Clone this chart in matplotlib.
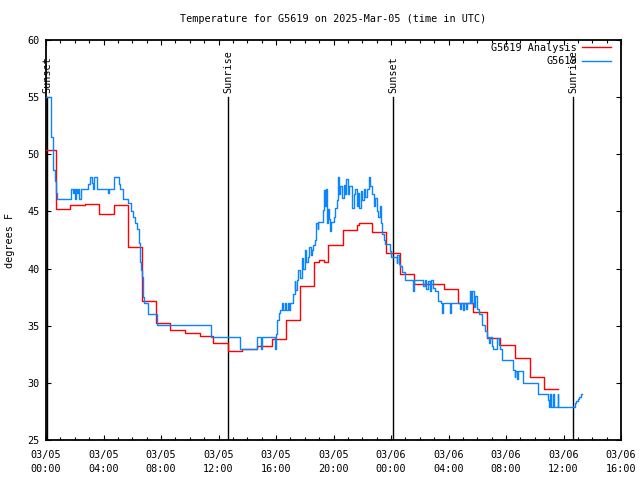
import matplotlib
matplotlib.use("Agg")
import matplotlib.pyplot as plt
from matplotlib.ticker import MultipleLocator

title = "Temperature for G5619 on 2025-Mar-05 (time in UTC)"
ylabel = "degrees F"
xtick_labels = ["03/05\n00:00", "03/05\n04:00", "03/05\n08:00", "03/05\n12:00",
                "03/05\n16:00", "03/05\n20:00", "03/06\n00:00", "03/06\n04:00",
                "03/06\n08:00", "03/06\n12:00", "03/06\n16:00"]
xtick_hours = [0, 4, 8, 12, 16, 20, 24, 28, 32, 36, 40]

# analysis (red), hours since 03/05 00:00 UTC, step-post
red_hours = [0.0, 0.67, 1.67, 2.7, 3.7, 4.7, 5.7, 6.7, 7.65, 8.6, 9.67, 10.7,
             11.6, 12.65, 13.66, 14.7, 15.7, 16.7, 17.7, 18.67, 19.0, 19.36,
             19.64, 20.64, 21.6, 21.75, 22.66, 23.65, 24.66, 25.6, 27.66, 28.68,
             29.68, 30.66, 31.6, 32.6, 33.67, 34.64, 35.64]
red_temps = [50.4, 45.2, 45.55, 45.65, 44.8, 45.55, 41.85, 37.15, 35.25, 34.6,
             34.4, 34.1, 33.45, 32.8, 32.95, 33.2, 33.8, 35.5, 38.5, 40.6,
             40.75, 40.6, 42.05, 43.35, 43.8, 44.0, 43.2, 41.35, 39.5, 38.65,
             38.2, 37.0, 36.2, 33.9, 33.3, 32.15, 30.55, 29.45, 29.45]

# observations (blue), step-post
obs_hours = [0.0, 0.33, 0.5, 0.6, 0.68, 0.74, 1.72, 1.9, 1.95, 2.02, 2.1, 2.18,
             2.25, 2.32, 2.4, 2.48, 2.94, 3.06, 3.2, 3.29, 3.34, 3.57, 4.29,
             4.38, 4.73, 5.08, 5.15, 5.38, 5.73, 5.91, 6.08, 6.19, 6.36, 6.47,
             6.54, 6.6, 6.66, 6.72, 6.77, 6.84, 7.12, 7.7, 11.46, 13.5, 14.7,
             14.95, 15.04, 15.18, 15.93, 16.0, 16.05, 16.1, 16.2, 16.3, 16.4,
             16.5, 16.6, 16.7, 16.8, 16.9, 17.0, 17.2, 17.3, 17.35, 17.43,
             17.55, 17.65, 17.8, 17.9, 18.0, 18.1, 18.2, 18.3, 18.4, 18.5,
             18.6, 18.7, 18.8, 18.9, 18.95, 19.3, 19.35, 19.4, 19.45, 19.54,
             19.6, 19.7, 19.77, 19.85, 20.0, 20.1, 20.24, 20.3, 20.35, 20.47,
             20.6, 20.7, 20.8, 20.9, 21.0, 21.1, 21.3, 21.4, 21.5, 21.6, 21.7,
             21.8, 21.9, 22.0, 22.1, 22.2, 22.3, 22.47, 22.55, 22.65, 22.8,
             22.9, 23.0, 23.1, 23.2, 23.3, 23.4, 23.5, 23.6, 23.9, 24.0, 24.4,
             24.45, 24.55, 24.6, 24.75, 24.97, 25.55, 25.6, 26.25, 26.35, 26.45,
             26.55, 26.7, 26.8, 26.9, 27.06, 27.3, 27.45, 27.53, 27.6, 28.1,
             28.2, 28.8, 28.9, 29.0, 29.1, 29.2, 29.3, 29.5, 29.55, 29.65,
             29.75, 29.85, 29.96, 30.1, 30.3, 30.54, 30.7, 30.8, 30.9, 31.0,
             31.1, 31.35, 31.5, 31.6, 31.7, 32.5, 32.6, 32.65, 32.75, 32.86,
             33.16, 34.25, 34.95, 35.0, 35.05, 35.1, 35.3, 35.35, 35.6, 35.65,
             36.68, 36.8, 36.9, 37.0, 37.1, 37.2, 37.27]
obs_temps = [55.0, 51.5, 48.6, 47.7, 46.6, 46.05, 47.0, 46.6, 47.0, 46.05, 47.0,
             46.6, 47.0, 46.05, 47.0, 47.0, 47.4, 48.0, 47.5, 47.0, 48.0, 47.0,
             46.6, 47.0, 48.0, 47.4, 47.0, 46.05, 45.7, 45.0, 44.5, 44.0, 43.5,
             42.2, 40.6, 39.9, 39.3, 38.4, 37.5, 37.0, 36.0, 35.05, 34.0, 33.0,
             34.0, 33.0, 34.0, 34.0, 33.0, 34.3, 35.05, 35.5, 36.1, 36.4, 37.0,
             36.4, 37.0, 36.4, 37.0, 36.4, 36.95, 37.8, 38.9, 38.1, 39.0, 39.9,
             39.2, 40.9, 40.0, 41.6, 40.6, 41.0, 41.9, 41.2, 41.6, 42.1, 42.5,
             44.0, 43.5, 44.1, 45.1, 46.9, 45.5, 47.0, 44.0, 45.2, 44.3, 43.3,
             44.1, 44.5, 45.3, 46.0, 48.0, 46.5, 47.2, 46.2, 47.3, 46.5, 47.8,
             46.5, 47.2, 45.3, 46.5, 47.0, 45.5, 46.6, 45.3, 46.8, 46.0, 47.0,
             46.3, 47.0, 48.0, 47.2, 46.5, 45.5, 46.2, 45.0, 44.5, 45.5, 44.0,
             43.0, 42.5, 42.15, 41.5, 41.05, 40.5, 41.2, 40.4, 40.2, 39.7, 39.0,
             38.0, 39.0, 38.5, 39.0, 38.2, 38.9, 38.0, 39.0, 38.3, 38.0, 37.2,
             37.0, 36.1, 37.0, 36.1, 37.0, 36.5, 37.0, 36.4, 37.0, 36.5, 37.0,
             38.0, 37.0, 38.0, 36.6, 37.6, 36.5, 36.0, 35.05, 34.5, 34.0, 33.5,
             34.0, 33.2, 33.0, 33.95, 33.3, 33.0, 32.0, 31.1, 30.5, 31.0, 30.3,
             31.0, 29.95, 29.0, 28.5, 27.9, 29.0, 27.9, 29.0, 27.9, 29.0, 27.9,
             27.9, 28.2, 28.4, 28.6, 28.8, 29.0, 29.0]

event_hours = [0.08, 12.68, 24.16, 36.68]
event_names = ["Sunset", "Sunrise", "Sunset", "Sunrise"]

FONT = "DejaVu Sans Mono"
FS = 7.3
plt.rcParams['font.family'] = FONT

fig = plt.figure(figsize=(6.4, 4.8), dpi=100)
ax = fig.add_axes([46/640, 40/480, 575/640, 400/480])

ax.plot(red_hours, red_temps, drawstyle='steps-post', color='#ff0000', lw=1.0,
        label='G5619 Analysis', zorder=3)
ax.plot(obs_hours, obs_temps, drawstyle='steps-post', color='#0a84ff', lw=1.0,
        label='G5619', zorder=4)

for h, name in zip(event_hours, event_names):
    ax.plot([h, h], [25, 55], color='black', lw=1.0, zorder=2)
    ax.text(h, 55.35, name, rotation=90, ha='center', va='bottom',
            fontsize=FS, family=FONT)

ax.set_xlim(0, 40)
ax.set_ylim(25, 60)
ax.set_xticks(xtick_hours)
ax.set_xticklabels(xtick_labels, fontsize=FS, linespacing=1.5)
ax.xaxis.set_minor_locator(MultipleLocator(1))
ax.set_yticks(range(25, 61, 5))
ax.set_yticklabels([str(v) for v in range(25, 61, 5)], fontsize=FS)
ax.tick_params(axis='both', which='major', direction='in', length=3.5, width=0.8,
               top=True, right=True, pad=4.5)
ax.tick_params(axis='x', which='major', pad=7)
ax.tick_params(axis='x', which='minor', direction='in', length=2.2, width=0.8,
               top=True, bottom=True)
for s in ax.spines.values():
    s.set_linewidth(1.3)

ax.set_ylabel(ylabel, fontsize=FS, labelpad=9)
ax.set_title(title, fontsize=FS, pad=13)

ax.legend(loc='upper right', markerfirst=False, frameon=False, fontsize=FS,
          handlelength=2.9, handletextpad=0.45, borderaxespad=0.0,
          labelspacing=0.35, bbox_to_anchor=(0.99, 1.003))

fig.savefig("out.png", dpi=100)
